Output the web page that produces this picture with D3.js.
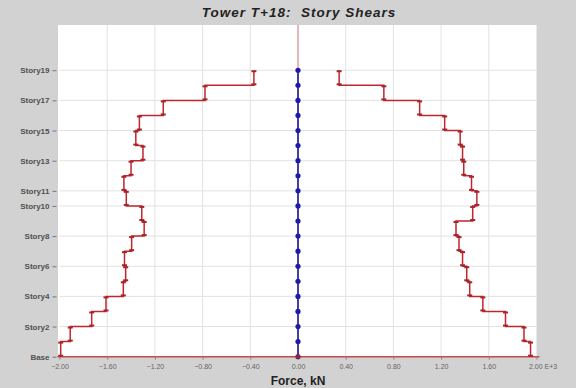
<!DOCTYPE html>
<html>
<head>
<meta charset="utf-8">
<script src="https://cdn.jsdelivr.net/npm/d3@7"></script>
<style>
  html, body { margin: 0; padding: 0; background: #d2d2d2; }
  svg { display: block; }
  text { font-family: "Liberation Sans", Arial, sans-serif; }
</style>
</head>
<body>
<script>
// Story levels: 0 = Base, 19 = Story19
const levels = d3.range(0, 20);
const levelLabels = ["Base", "Story2", "Story4", "Story6", "Story8", "Story10",
                     "Story11", "Story13", "Story15", "Story17", "Story19"];
const labelLevels = [0, 2, 4, 6, 8, 10, 11, 13, 15, 17, 19];

// Story shear per story (Story1 .. Story19), kN x 1E+3
const shearNeg = [-1.99, -1.91, -1.73, -1.61, -1.465, -1.445, -1.455, -1.395, -1.29, -1.31,
                  -1.44, -1.46, -1.40, -1.30, -1.36, -1.33, -1.13, -0.78, -0.37];
const shearPos = [1.95, 1.895, 1.74, 1.55, 1.44, 1.415, 1.38, 1.35, 1.325, 1.465,
                  1.50, 1.455, 1.39, 1.38, 1.36, 1.23, 1.02, 0.72, 0.345];
// Vertical-load shear, zero at every level
const shearZero = levels.map(() => 0);

const xTicks = [-2.0, -1.6, -1.2, -0.8, -0.4, 0.0, 0.4, 0.8, 1.2, 1.6, 2.0];

const W = 576, H = 388;
const plot = { left: 59.5, right: 536.5, top: 25, bottom: 356.7 };

const x = d3.scaleLinear().domain([-2, 2]).range([plot.left, plot.right]);
const y = d3.scaleLinear().domain([0, 22]).range([plot.bottom, plot.top]);

const svg = d3.select("body").append("svg").attr("width", W).attr("height", H);

svg.append("rect").attr("width", W).attr("height", H).attr("fill", "#d2d2d2");
svg.append("rect")
  .attr("x", plot.left - 1.5).attr("y", plot.top)
  .attr("width", plot.right - plot.left + 1.5).attr("height", plot.bottom - plot.top)
  .attr("fill", "#ffffff");

// Grid
const grid = svg.append("g").attr("stroke", "#e2e2e2").attr("stroke-width", 1);
grid.selectAll("line.v").data(xTicks.filter(t => t !== 0 && Math.abs(t) < 2)).join("line")
  .attr("x1", d => x(d)).attr("x2", d => x(d))
  .attr("y1", plot.top).attr("y2", plot.bottom);
grid.selectAll("line.h").data(labelLevels.filter(l => l > 0)).join("line")
  .attr("x1", plot.left).attr("x2", plot.right)
  .attr("y1", d => y(d)).attr("y2", d => y(d));

// Zero reference lines
svg.append("line")
  .attr("x1", x(0)).attr("x2", x(0)).attr("y1", plot.top).attr("y2", plot.bottom)
  .attr("stroke", "#d9868a").attr("stroke-width", 1.2);
svg.append("line")
  .attr("x1", plot.left - 2).attr("x2", plot.right + 3).attr("y1", y(0)).attr("y2", y(0))
  .attr("stroke", "#c8474d").attr("stroke-width", 1.6);

// Y axis labels and ticks
const yAxis = d3.axisLeft(y)
  .tickValues(labelLevels)
  .tickFormat((d, i) => levelLabels[i])
  .tickSize(4).tickPadding(3);
const gy = svg.append("g").attr("transform", `translate(${plot.left - 3},0)`).call(yAxis);
gy.select(".domain").remove();
gy.selectAll(".tick line").attr("stroke", "#777");
gy.selectAll(".tick text")
  .attr("fill", "#505050").attr("font-size", 8).attr("font-weight", "bold")
  .attr("font-family", "Liberation Sans, Arial, sans-serif");

// X axis labels and ticks
const xAxis = d3.axisBottom(x)
  .tickValues(xTicks)
  .tickFormat(d => d === 2 ? "2.00 E+3" : d3.format(".2f")(d))
  .tickSize(3).tickPadding(4);
const gx = svg.append("g").attr("transform", `translate(0,${plot.bottom})`).call(xAxis);
gx.select(".domain").remove();
gx.selectAll(".tick line").attr("stroke", "#888");
gx.selectAll(".tick text")
  .attr("fill", "#666").attr("font-size", 7)
  .attr("font-family", "Liberation Sans, Arial, sans-serif")
  .filter(d => d === 2).attr("text-anchor", "start").attr("dx", -8);

// Step profile: each story holds its shear from the level below to its own level
function stepPoints(vals) {
  const pts = [];
  vals.forEach((v, i) => { pts.push([v, i, "bottom"]); pts.push([v, i + 1, "top"]); });
  return pts;
}
const line = d3.line().x(d => x(d[0])).y(d => y(d[1]));
const red = "#c0262d";

[shearNeg, shearPos].forEach(vals => {
  const pts = stepPoints(vals);
  svg.append("path").attr("d", line(pts))
    .attr("fill", "none").attr("stroke", red).attr("stroke-width", 1.5);
  svg.append("g").selectAll("line").data(pts).join("line")
    .attr("x1", d => x(d[0]) - 2.5).attr("x2", d => x(d[0]) + 2.5)
    .attr("y1", d => y(d[1]) + (d[2] === "bottom" ? -1 : 1))
    .attr("y2", d => y(d[1]) + (d[2] === "bottom" ? -1 : 1))
    .attr("stroke", "#a8242a").attr("stroke-width", 2);
});

// Blue series along zero
const bluePts = levels.map((l, i) => [shearZero[i], l]);
svg.append("path").attr("d", line(bluePts))
  .attr("fill", "none").attr("stroke", "#1f1f9a").attr("stroke-width", 1.6);
svg.append("g").selectAll("circle").data(bluePts).join("circle")
  .attr("cx", d => x(d[0])).attr("cy", d => y(d[1]))
  .attr("r", 2.6)
  .attr("fill", d => d[1] === 0 ? "#7a2a5a" : "#1c1ca8");

// Titles
svg.append("text")
  .attr("x", 299).attr("y", 17).attr("text-anchor", "middle")
  .attr("font-size", 13.5).attr("font-weight", "bold").attr("font-style", "italic")
  .attr("letter-spacing", 1).attr("fill", "#222")
  .text("Tower T+18:\u00a0 Story Shears");
svg.append("text")
  .attr("x", 298).attr("y", 385).attr("text-anchor", "middle")
  .attr("font-size", 12).attr("font-weight", "bold").attr("fill", "#222")
  .text("Force, kN");
</script>
</body>
</html>
